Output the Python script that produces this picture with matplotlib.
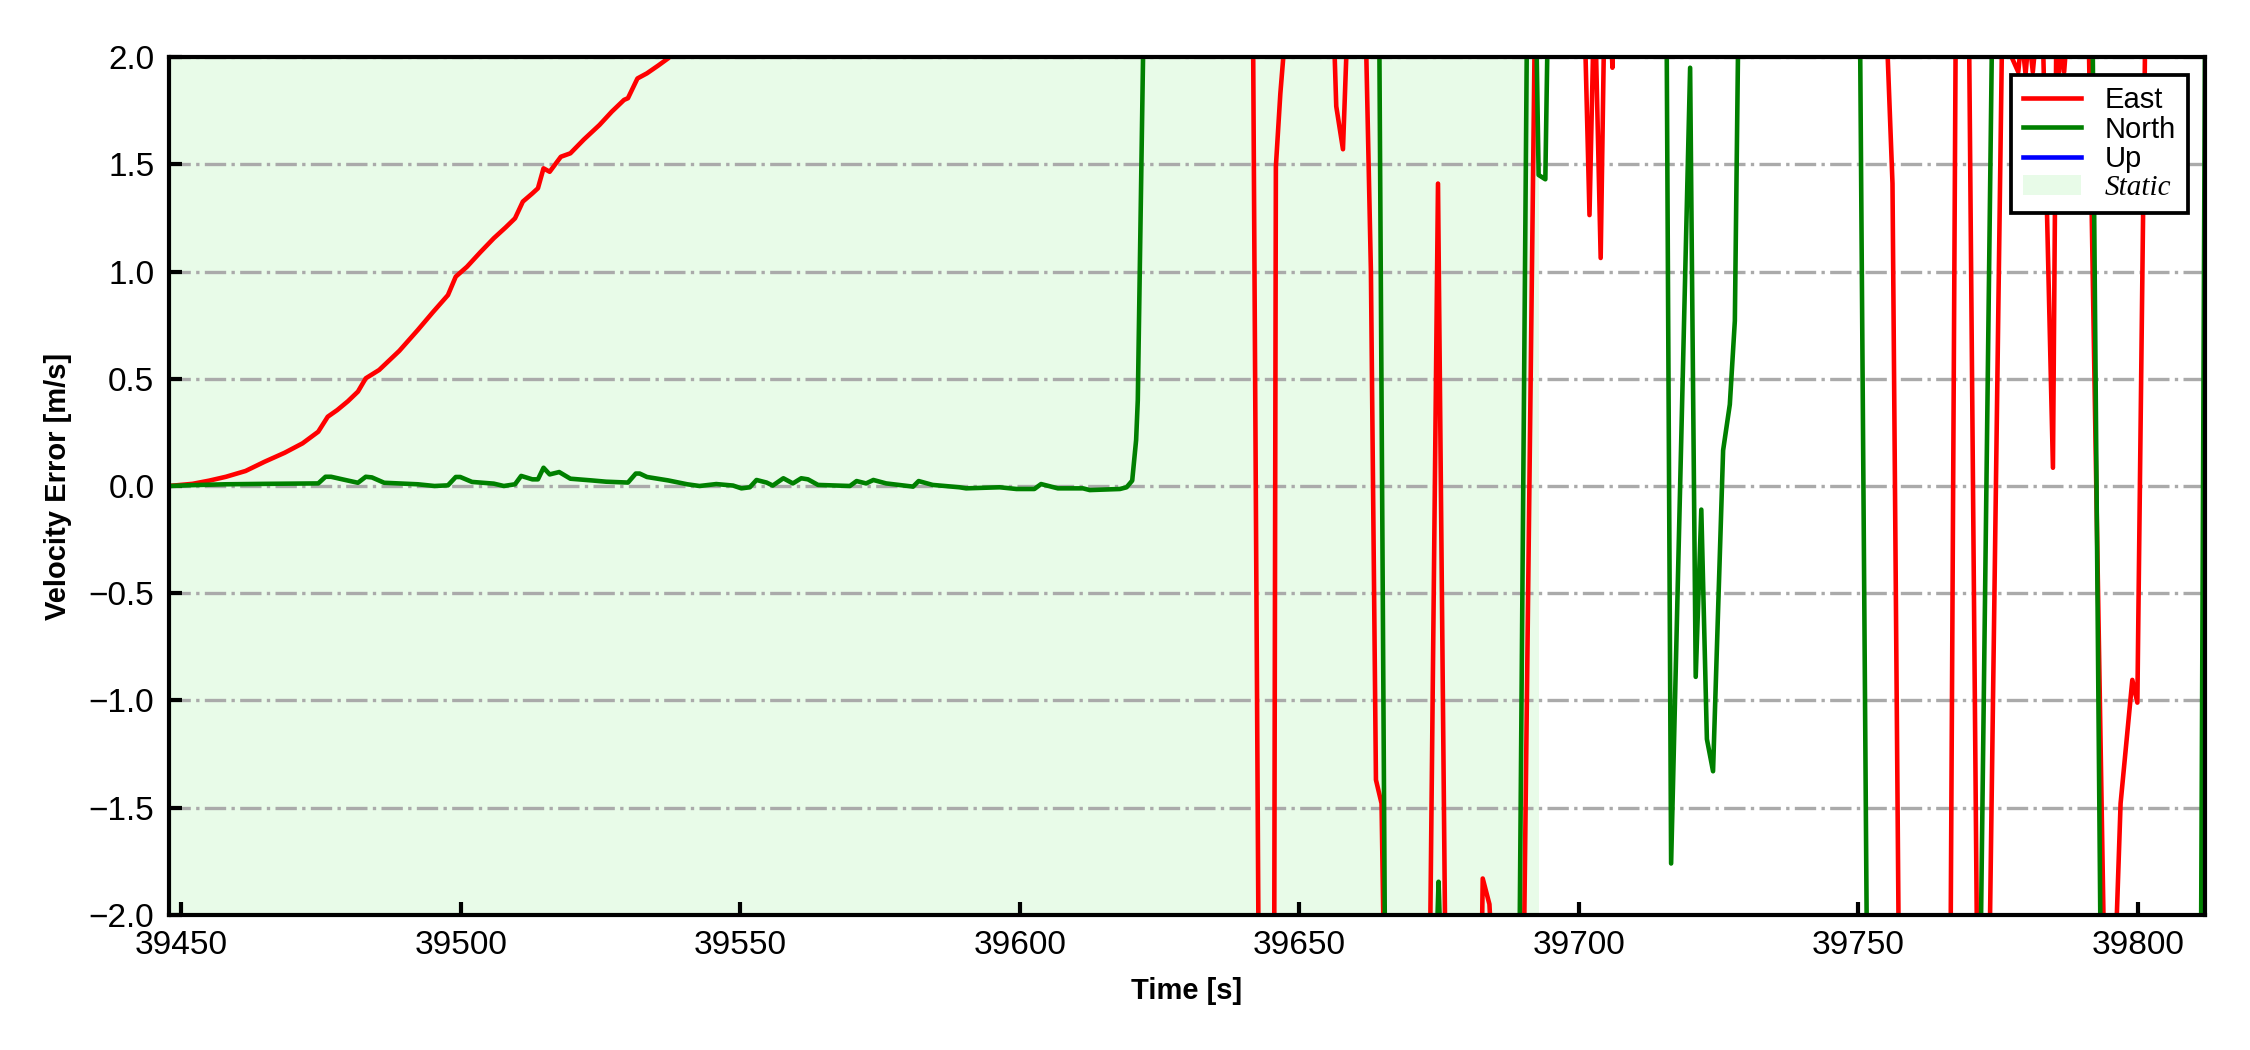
import matplotlib
matplotlib.use("Agg")
import matplotlib.pyplot as plt

plt.rcParams['font.family'] = ['Liberation Sans', 'DejaVu Sans']
plt.rcParams['font.size'] = 8

# East velocity error (values beyond +-2 are off the plotted range)
east_t = [39447.8, 39452.0, 39455.0, 39458.0, 39461.5, 39464.9, 39468.5, 39471.7,
          39474.5, 39476.2, 39477.9, 39479.8, 39481.6, 39483.0, 39485.4, 39489.0,
          39492.3, 39495.0, 39497.7, 39499.1, 39501.1, 39503.5, 39505.9, 39508.0,
          39509.7, 39511.1, 39512.8, 39513.8, 39514.8, 39515.9, 39517.9, 39519.6,
          39522.0, 39524.8, 39527.0, 39529.2, 39529.9, 39531.6, 39533.3, 39535.3,
          39537.1, 39539.5, 39641.7, 39642.7, 39645.5, 39645.8, 39646.6, 39647.6,
          39656.2, 39656.6, 39657.8, 39658.6, 39661.9, 39662.8, 39663.7, 39664.7,
          39665.1, 39673.4, 39674.8, 39676.1, 39682.6, 39682.8, 39684.0, 39684.3,
          39690.2, 39692.1, 39701.1, 39701.9, 39702.6, 39703.0, 39703.9, 39704.5,
          39705.8, 39706.0, 39706.2, 39755.1, 39756.1, 39757.2, 39766.5, 39767.4,
          39769.8, 39771.2, 39773.5, 39775.7, 39778.6, 39779.2, 39779.9, 39780.5,
          39781.2, 39781.8, 39783.0, 39784.8, 39785.4, 39785.9, 39786.3, 39786.8,
          39787.3, 39791.2, 39793.9, 39796.1, 39796.9, 39799.0, 39799.9, 39801.3,
          39812.0]
east_v = [0.000, 0.010, 0.025, 0.043, 0.070, 0.113, 0.155, 0.199,
          0.253, 0.323, 0.354, 0.395, 0.440, 0.502, 0.541, 0.630,
          0.727, 0.810, 0.890, 0.976, 1.022, 1.090, 1.155, 1.205,
          1.248, 1.326, 1.364, 1.388, 1.481, 1.465, 1.535, 1.551,
          1.615, 1.683, 1.745, 1.800, 1.808, 1.900, 1.924, 1.960,
          1.994, 2.060, 2.200, -2.150, -2.200, 1.490, 1.830, 2.150,
          2.100, 1.770, 1.570, 2.150, 2.100, 1.000, -1.370, -1.480,
          -2.150, -2.100, 1.410, -2.150, -2.200, -1.830, -1.950, -2.100,
          -2.100, 2.100, 2.100, 1.263, 2.100, 2.100, 1.063, 2.100,
          2.100, 1.950, 2.100, 2.100, 1.410, -2.100, -2.100, 2.100,
          2.100, -2.100, -2.100, 2.100, 1.930, 2.100, 1.920, 2.100,
          1.930, 2.100, 2.100, 0.085, 2.100, 1.930, 2.100, 1.930,
          2.100, 2.100, -2.100, -2.100, -1.480, -0.904, -1.010, 2.100,
          2.200]

# North velocity error
north_t = [39447.8, 39452.0, 39458.0, 39465.0, 39474.5, 39475.8, 39476.8, 39479.0,
           39481.6, 39483.0, 39484.1, 39486.3, 39492.3, 39495.3, 39497.7, 39499.1,
           39499.9, 39502.0, 39505.9, 39507.7, 39509.7, 39510.8, 39512.8, 39513.8,
           39514.8, 39515.9, 39517.6, 39519.6, 39523.4, 39526.0, 39529.9, 39531.3,
           39532.0, 39533.3, 39537.1, 39540.5, 39542.7, 39545.7, 39548.7, 39550.2,
           39551.7, 39552.9, 39554.7, 39555.8, 39557.7, 39559.4, 39560.9, 39562.1,
           39563.9, 39569.6, 39570.8, 39572.5, 39573.8, 39576.1, 39580.9, 39581.9,
           39584.4, 39589.2, 39590.4, 39596.4, 39599.4, 39602.6, 39603.8, 39606.8,
           39611.3, 39612.5, 39617.9, 39619.1, 39620.1, 39620.8, 39621.1, 39622.1,
           39664.3, 39665.3, 39674.6, 39674.9, 39675.2, 39689.4, 39690.7, 39692.4,
           39692.8, 39694.0, 39694.4, 39715.7, 39716.5, 39719.9, 39720.9, 39721.9,
           39722.9, 39724.0, 39725.8, 39727.0, 39727.9, 39728.5, 39750.3, 39751.5,
           39771.9, 39773.9, 39791.9, 39793.3, 39811.3, 39812.0]
north_v = [0.000, 0.004, 0.008, 0.010, 0.012, 0.043, 0.043, 0.030,
           0.015, 0.043, 0.040, 0.015, 0.008, 0.000, 0.003, 0.042,
           0.042, 0.019, 0.011, 0.000, 0.008, 0.047, 0.031, 0.031,
           0.085, 0.054, 0.065, 0.034, 0.026, 0.020, 0.016, 0.058,
           0.058, 0.042, 0.026, 0.008, 0.000, 0.009, 0.002, -0.011,
           -0.006, 0.028, 0.016, 0.002, 0.036, 0.012, 0.036, 0.031,
           0.005, 0.000, 0.023, 0.012, 0.028, 0.012, -0.003, 0.023,
           0.005, -0.006, -0.011, -0.006, -0.014, -0.014, 0.009, -0.011,
           -0.011, -0.019, -0.014, -0.006, 0.025, 0.214, 0.400, 2.100,
           2.100, -2.100, -2.100, -1.845, -2.100, -2.100, 2.100, 2.100,
           1.450, 1.430, 2.100, 2.100, -1.760, 1.950, -0.890, -0.110,
           -1.180, -1.330, 0.166, 0.380, 0.770, 2.100, 2.100, -2.100,
           -2.100, 2.100, 2.100, -2.100, -2.100, 2.100]

# Up velocity error: no visible samples inside the plotted range
up_t = []
up_v = []

static_start = 39447.8
static_end = 39692.9

fig = plt.figure(figsize=(7.5, 3.5), dpi=300)
ax = fig.add_axes([0.0751, 0.1286, 0.9049, 0.8171])

ax.axvspan(static_start, static_end, color='#e8fbe8', lw=0, label='Static', zorder=0)
ax.plot(east_t, east_v, color='red', lw=1.1, label='East')
ax.plot(north_t, north_v, color='green', lw=1.1, label='North')
ax.plot(up_t, up_v, color='blue', lw=1.1, label='Up')

ax.set_xlim(east_t[0], east_t[-1])
ax.set_ylim(-2, 2)
ax.set_yticks([-2, -1.5, -1, -0.5, 0, 0.5, 1, 1.5, 2])
ax.set_xticks([39450, 39500, 39550, 39600, 39650, 39700, 39750, 39800])
ax.yaxis.grid(True, linestyle='-.', color='#aaaaaa', lw=0.8)
ax.set_axisbelow(True)
ax.tick_params(direction='in', length=3.2, width=1.0, labelsize=8)
for s in ax.spines.values():
    s.set_linewidth(1.0)

ax.set_xlabel('Time [s]', fontsize=7, fontweight='bold')
ax.set_ylabel('Velocity Error [m/s]', fontsize=7, fontweight='bold')

h, l = ax.get_legend_handles_labels()
order = [l.index('East'), l.index('North'), l.index('Up'), l.index('Static')]
leg = ax.legend([h[i] for i in order], [l[i] for i in order], loc='upper right',
                fontsize=7, fancybox=False, edgecolor='black', framealpha=1,
                labelspacing=0.05, borderaxespad=0.6, handlelength=2.0)
leg.get_frame().set_linewidth(0.9)
st = leg.get_texts()[3]
st.set_fontfamily(['Liberation Serif'])
st.set_fontstyle('italic')

fig.savefig('out.png', dpi=300)
